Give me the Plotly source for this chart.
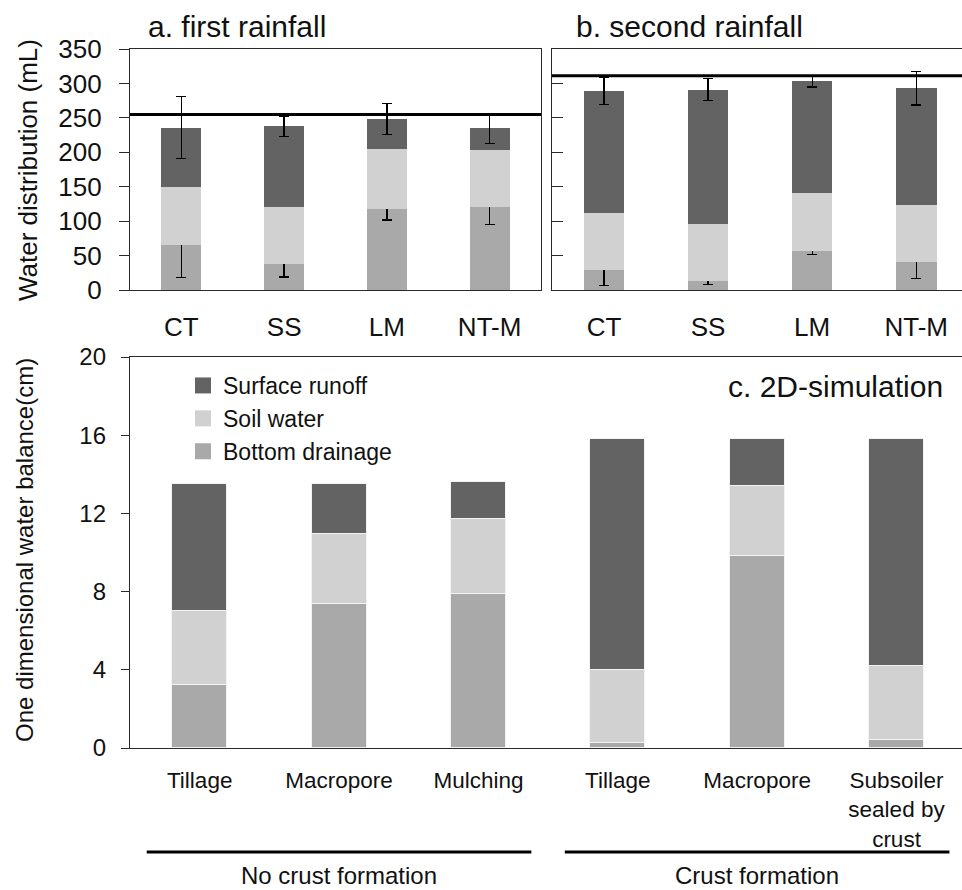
import plotly.graph_objects as go

# ---------------- data ----------------
top_categories = ["CT", "SS", "LM", "NT-M"]

# a. first rainfall (mL)
a_drainage = [66, 38, 118, 120]
a_soil = [83, 83, 86.5, 83.6]
a_runoff = [87, 116.5, 43.5, 31]
a_drainage_err = [48, 19, 16.5, 25]
a_total_err = [45, 15, 22.5, 22]
a_rainfall = 255

# b. second rainfall (mL)
b_drainage = [29, 13, 56.4, 40]
b_soil = [83.4, 83.5, 84.6, 84]
b_runoff = [177, 194.5, 162, 169]
b_drainage_err = [22.5, 4.5, 5, 23]
b_total_err = [20, 16, 8, 24.5]
b_rainfall = 311

top_yticks = [0, 50, 100, 150, 200, 250, 300, 350]

# c. 2D-simulation (cm)
sim_labels = ["Tillage", "Macropore", "Mulching", "Tillage", "Macropore",
              "Subsoiler<br>sealed by<br>crust"]
c_drainage = [3.2, 7.35, 7.87, 0.24, 9.8, 0.41]
c_soil = [3.8, 3.6, 3.82, 3.75, 3.61, 3.79]
c_runoff = [6.5, 2.55, 1.91, 11.83, 2.41, 11.62]
bottom_yticks = [0, 4, 8, 12, 16, 20]

groups = [("No crust formation", [0, 1, 2]), ("Crust formation", [3, 4, 5])]
series_names = ["Surface runoff", "Soil water", "Bottom drainage"]

# ---------------- style ----------------
FONT = "Liberation Sans, Arial, sans-serif"
C_RUN, C_SOIL, C_DRAIN = "#636363", "#d1d1d1", "#a9a9a9"
LINE = "#2a2a2a"
W, H = 962, 890

def px_x(p):
    return p / W

def px_y(p):
    return 1 - p / H

fig = go.Figure()

def add_top(xa, ya, drain, soil, runoff, drain_err, total_err):
    err = dict(type="data", color="black", thickness=1.3, width=5)
    fig.add_trace(go.Bar(x=top_categories, y=drain, xaxis=xa, yaxis=ya,
                         marker=dict(color=C_DRAIN, line=dict(width=0)),
                         width=0.39, showlegend=False,
                         error_y=dict(array=drain_err, **err)))
    fig.add_trace(go.Bar(x=top_categories, y=soil, xaxis=xa, yaxis=ya,
                         marker=dict(color=C_SOIL, line=dict(width=0)),
                         width=0.39, showlegend=False))
    fig.add_trace(go.Bar(x=top_categories, y=runoff, xaxis=xa, yaxis=ya,
                         marker=dict(color=C_RUN, line=dict(width=0)),
                         width=0.39, showlegend=False,
                         error_y=dict(array=total_err, **err)))

add_top("x", "y", a_drainage, a_soil, a_runoff, a_drainage_err, a_total_err)
add_top("x2", "y2", b_drainage, b_soil, b_runoff, b_drainage_err, b_total_err)

pos = list(range(len(sim_labels)))
for vals, col in [(c_drainage, C_DRAIN), (c_soil, C_SOIL), (c_runoff, C_RUN)]:
    fig.add_trace(go.Bar(x=pos, y=vals, xaxis="x3", yaxis="y3",
                         marker=dict(color=col, line=dict(width=1, color="#f2f2f2")),
                         width=0.395, showlegend=False))

# legend proxies
for name, col in zip(series_names, [C_RUN, C_SOIL, C_DRAIN]):
    fig.add_trace(go.Scatter(x=[None], y=[None], xaxis="x3", yaxis="y3",
                             mode="markers", name=name,
                             marker=dict(symbol="square", size=16, color=col)))

top_dom_y = [px_y(290), px_y(49)]
bot_dom_y = [px_y(748), px_y(357)]

axis_common = dict(showgrid=False, zeroline=False, linecolor=LINE, linewidth=1.3,
                   tickcolor=LINE, tickwidth=1.2, automargin=False)

fig.update_layout(
    width=W, height=H, margin=dict(l=0, r=0, t=0, b=0, autoexpand=False),
    paper_bgcolor="white", plot_bgcolor="white",
    barmode="stack", bargap=0,
    font=dict(family=FONT, color="#111111"),
    xaxis=dict(domain=[px_x(130), px_x(541)], anchor="y", range=[-0.5, 3.5],
               type="category", showline=True, mirror=True, ticks="",
               tickfont=dict(size=26), ticklabelstandoff=14, **axis_common),
    yaxis=dict(domain=top_dom_y, anchor="x", range=[0, 350], tickvals=top_yticks,
               ticks="outside", ticklen=10, showline=True, mirror=True,
               tickfont=dict(size=26), ticklabelstandoff=12, **axis_common),
    yaxis4=dict(overlaying="y", anchor="x", range=[0, 350], tickvals=top_yticks,
                ticks="inside", ticklen=10, showticklabels=False, showline=False,
                **axis_common),
    xaxis2=dict(domain=[px_x(552), 1.0], anchor="y2", range=[-0.5, 3.44],
                type="category", showline=True, mirror=True, ticks="",
                tickfont=dict(size=26), ticklabelstandoff=14, **axis_common),
    yaxis2=dict(domain=top_dom_y, anchor="x2", range=[0, 350], tickvals=top_yticks,
                ticks="inside", ticklen=11, showticklabels=False, showline=True,
                mirror=False, **axis_common),
    xaxis3=dict(domain=[px_x(130), 1.0], anchor="y3", range=[-0.5, 5.47],
                tickvals=pos, ticktext=sim_labels, showline=True, mirror=True,
                ticks="", tickfont=dict(size=22.5), ticklabelstandoff=12, **axis_common),
    yaxis3=dict(domain=bot_dom_y, anchor="x3", range=[0, 20], tickvals=bottom_yticks,
                ticks="outside", ticklen=8, showline=True,
                tickfont=dict(size=24), ticklabelstandoff=10, **axis_common),
    yaxis5=dict(overlaying="y3", anchor="x3", range=[0, 20], tickvals=bottom_yticks,
                ticks="inside", ticklen=8, showticklabels=False, showline=False,
                **axis_common),
    legend=dict(x=px_x(183), y=px_y(364), xanchor="left", yanchor="top",
                font=dict(size=23), bgcolor="rgba(0,0,0,0)", tracegroupgap=0,
                traceorder="normal", itemsizing="trace"),
)

# rainfall reference lines
fig.add_shape(type="line", xref="x domain", yref="y", x0=0, x1=1,
              y0=a_rainfall, y1=a_rainfall, line=dict(color="black", width=3))
fig.add_shape(type="line", xref="x2 domain", yref="y2", x0=0, x1=1,
              y0=b_rainfall, y1=b_rainfall, line=dict(color="black", width=3))

# group underlines and labels
for label, idx in groups:
    fig.add_shape(type="line", xref="x3", yref="paper",
                  x0=idx[0] - 0.38, x1=idx[-1] + 0.38, y0=px_y(852), y1=px_y(852),
                  line=dict(color="black", width=3))
    fig.add_annotation(x=(idx[0] + idx[-1]) / 2, xref="x3", y=0, yref="paper",
                       text=label, showarrow=False, font=dict(size=24),
                       xanchor="center", yanchor="bottom", borderpad=0)

# titles
fig.add_annotation(x=px_x(146), y=px_y(26), xref="paper", yref="paper",
                   text="a. first rainfall", showarrow=False, font=dict(size=30),
                   xanchor="left", yanchor="middle")
fig.add_annotation(x=px_x(574), y=px_y(26), xref="paper", yref="paper",
                   text="b. second rainfall", showarrow=False, font=dict(size=30),
                   xanchor="left", yanchor="middle")
fig.add_annotation(x=px_x(945), y=px_y(386), xref="paper", yref="paper",
                   text="c. 2D-simulation", showarrow=False, font=dict(size=30),
                   xanchor="right", yanchor="middle")

# axis titles
fig.add_annotation(x=px_x(28), y=px_y(170), xref="paper", yref="paper",
                   text="Water distribution (mL)", showarrow=False, textangle=-90,
                   font=dict(size=26), xanchor="center", yanchor="middle")
fig.add_annotation(x=px_x(24), y=px_y(550), xref="paper", yref="paper",
                   text="One dimensional water balance(cm)", showarrow=False,
                   textangle=-90, font=dict(size=24), xanchor="center", yanchor="middle")

fig.write_html("out.html")
